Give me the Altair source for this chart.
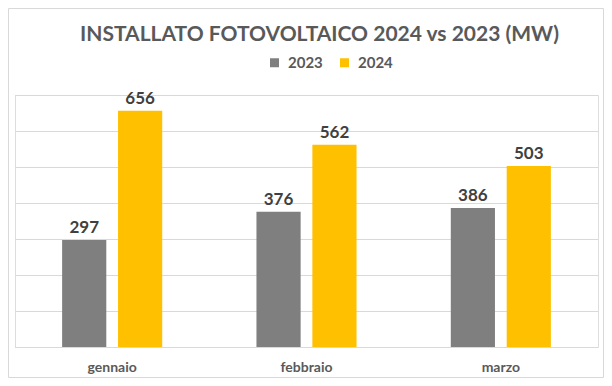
import altair as alt
import pandas as pd

months = ["gennaio", "febbraio", "marzo"]
years = ["2023", "2024"]
values_2023 = [297, 376, 386]
values_2024 = [656, 562, 503]
grid_values = [0, 100, 200, 300, 400, 500, 600, 700]

rows = []
for m, a, b in zip(months, values_2023, values_2024):
    rows.append({"mese": m, "anno": "2023", "MW": a})
    rows.append({"mese": m, "anno": "2024", "MW": b})
df = pd.DataFrame(rows)
grid_df = pd.DataFrame({"g": grid_values})

FONT = "Lato"
colors = ["#7F7F7F", "#FFC000"]

y_scale = alt.Scale(domain=[0, 700], nice=False)

grid = alt.Chart(grid_df).mark_rule(color="#D9D9D9", strokeWidth=1, yOffset=0.5).encode(
    y=alt.Y("g:Q", scale=y_scale, title=None, axis=None),
)

x_enc = alt.X("mese:N", sort=months, title=None,
              scale=alt.Scale(paddingInner=0.485, paddingOuter=0.2425),
              axis=alt.Axis(labelAngle=0, labelFont=FONT, labelFontSize=14,
                            labelFontWeight="bold", labelColor="#595959",
                            labelPadding=13, ticks=False, domain=False, grid=False))
xoff = alt.XOffset("anno:N", sort=years,
                   scale=alt.Scale(paddingInner=0.21, paddingOuter=0))
y_enc = alt.Y("MW:Q", title=None, scale=y_scale, axis=None)

bars = alt.Chart(df).mark_bar().encode(
    x=x_enc,
    xOffset=xoff,
    y=y_enc,
    color=alt.Color("anno:N", sort=years, title=None,
                    scale=alt.Scale(domain=years, range=colors),
                    legend=alt.Legend(orient="none", direction="horizontal",
                                      legendX=252, legendY=-40,
                                      symbolType="square", symbolSize=81,
                                      symbolStrokeWidth=0,
                                      labelFont=FONT, labelFontSize=15,
                                      labelFontWeight="bold", labelColor="#595959",
                                      labelOffset=6, columnPadding=14, padding=0)),
)

labels = alt.Chart(df).mark_text(
    font=FONT, fontSize=17, fontWeight="bold", color="#404040",
    baseline="alphabetic", dy=-7
).encode(
    x=alt.X("mese:N", sort=months),
    xOffset=alt.XOffset("anno:N", sort=years),
    y=alt.Y("MW:Q"),
    text=alt.Text("MW:Q"),
)

border = alt.Chart(pd.DataFrame({"b": [0]})).mark_rect(
    fill=None, stroke="#D9D9D9", strokeWidth=1
).encode(
    x=alt.value(-6.5), x2=alt.value(588.5),
    y=alt.value(-86.5), y2=alt.value(282.5),
)

chart = alt.layer(grid, bars, labels, border).properties(
    width=583, height=252,
    autosize=alt.AutoSizeParams(type="none"),
    padding={"left": 7, "top": 87, "right": 6, "bottom": 31},
    title=alt.Title("INSTALLATO FOTOVOLTAICO 2024 vs 2023 (MW)",
                    font=FONT, fontSize=21, fontWeight="bold", color="#595959",
                    anchor="middle", dx=13, dy=47, offset=10),
).configure_view(stroke=None).configure(background="white")

chart.save("out.html", embed_options={"renderer": "svg", "actions": False})
